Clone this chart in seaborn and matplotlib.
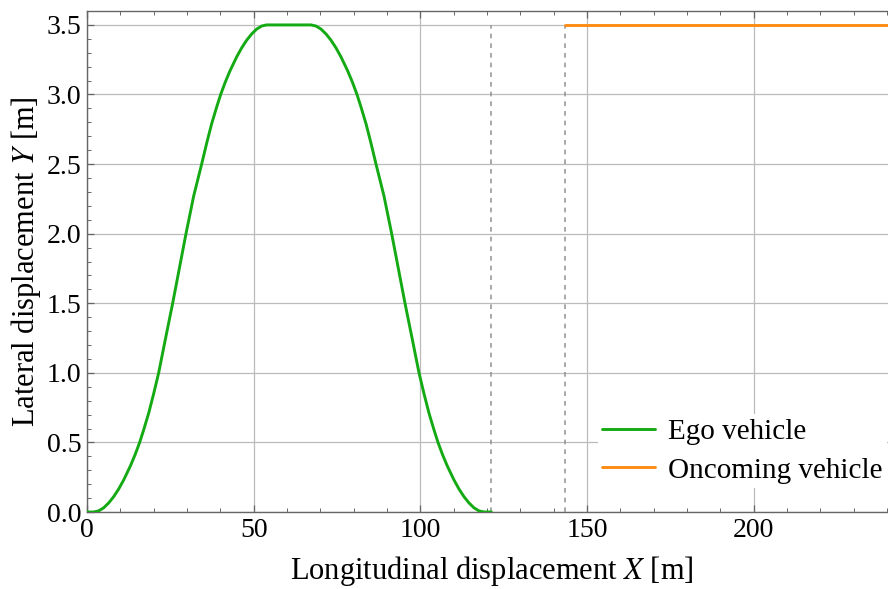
import pandas as pd
import seaborn as sns
import matplotlib.pyplot as plt
from matplotlib.ticker import MultipleLocator, FormatStrFormatter

# values
ego_x = [0, 2, 3.5, 5, 6.5, 8, 9.5, 11, 13, 14.4, 15.8, 17, 18.5, 20, 21.5, 23.5, 25.7,
         27.7, 29.7, 32.0, 34.4, 35.9, 37.4, 38.9, 40.1, 41.5, 42.9, 44.9, 46.4, 47.9,
         49.4, 50.9, 52.4, 53.9, 60.5, 67.2, 68.7, 70.2, 71.7, 73.2, 74.7, 76.2, 78.2,
         79.6, 81.0, 82.2, 83.7, 85.2, 86.7, 89.1, 91.4, 93.4, 95.4, 97.6, 99.6, 101.1,
         102.6, 104.1, 105.3, 106.7, 108.1, 110.1, 111.6, 113.1, 114.6, 116.1, 117.6,
         119.1, 121.3]
ego_y = [0, 0, 0.008, 0.03, 0.065, 0.11, 0.165, 0.23, 0.33, 0.41, 0.5, 0.59, 0.71, 0.85, 1.0,
         1.24, 1.5, 1.75, 2.0, 2.27, 2.5, 2.65, 2.79, 2.91, 3.0, 3.09, 3.17, 3.27, 3.335,
         3.39, 3.435, 3.47, 3.492, 3.5, 3.5, 3.5, 3.492, 3.47, 3.435, 3.39, 3.335, 3.27,
         3.17, 3.09, 3.0, 2.91, 2.79, 2.65, 2.5, 2.27, 2.0, 1.75, 1.5, 1.24, 1.0, 0.85,
         0.71, 0.59, 0.5, 0.41, 0.33, 0.23, 0.165, 0.11, 0.065, 0.03, 0.008, 0, 0]
oncoming_x = [143.5, 250]
oncoming_y = [3.5, 3.5]
marker_x = [121.3, 143.5]   # dashed vertical lines
marker_top = 3.5

x_ticks = [0, 50, 100, 150, 200]
y_ticks = [0.0, 0.5, 1.0, 1.5, 2.0, 2.5, 3.0, 3.5]

sns.set_theme(style="white")
plt.rcParams['font.family'] = ['Liberation Serif', 'DejaVu Serif']
plt.rcParams['mathtext.fontset'] = 'stix'

fig = plt.figure(figsize=(8.88, 5.89), dpi=100)
# axes run a little past the right edge, as in the reference
ax = fig.add_axes([87 / 888, 77 / 589, 810 / 888, 501 / 589])

ego = pd.DataFrame({"x": ego_x, "y": ego_y})
onc = pd.DataFrame({"x": oncoming_x, "y": oncoming_y})

ax.vlines(marker_x, 0, marker_top, colors="#999999", linewidth=1.2,
          linestyles=(0, (2.8, 3.0)), zorder=3)
sns.lineplot(data=ego, x="x", y="y", sort=False, estimator=None, color="#14aa14",
             linewidth=2.1, label="Ego vehicle", ax=ax, zorder=4)
sns.lineplot(data=onc, x="x", y="y", sort=False, estimator=None, color="#ff8c14",
             linewidth=2.1, label="Oncoming vehicle", ax=ax, zorder=4)

ax.set_xlim(0, 243)
ax.set_ylim(0, 3.6)
ax.set_xticks(x_ticks)
ax.set_yticks(y_ticks)
ax.yaxis.set_major_formatter(FormatStrFormatter("%.1f"))
ax.xaxis.set_minor_locator(MultipleLocator(10))
ax.yaxis.set_minor_locator(MultipleLocator(0.1))
ax.tick_params(which="both", direction="in", top=True, right=True, bottom=True, left=True,
               color="#666666", labelsize=20, labelcolor="black", pad=4)
ax.tick_params(which="major", length=5, width=0.9)
ax.tick_params(which="minor", length=3, width=0.7)
ax.grid(True, which="major", color="#bbbbbb", linewidth=0.9)
ax.set_axisbelow(True)
for sp in ax.spines.values():
    sp.set_color("#666666")
    sp.set_linewidth(1.0)

ax.set_xlabel("Longitudinal displacement $X$ [m]", fontsize=22, labelpad=8, color="black")
ax.set_ylabel("Lateral displacement $Y$ [m]", fontsize=22, labelpad=3, color="black")

leg = ax.legend(loc="center left", bbox_to_anchor=(598 / 888, 138 / 589),
                bbox_transform=fig.transFigure, fontsize=21, frameon=True,
                fancybox=False, framealpha=1, facecolor="white", edgecolor="none",
                borderpad=0.15, borderaxespad=0, handlelength=1.8, handletextpad=0.45,
                labelspacing=0.42)
for t in leg.get_texts():
    t.set_color("black")
leg.set_zorder(5)

fig.savefig("out.png", dpi=100)
